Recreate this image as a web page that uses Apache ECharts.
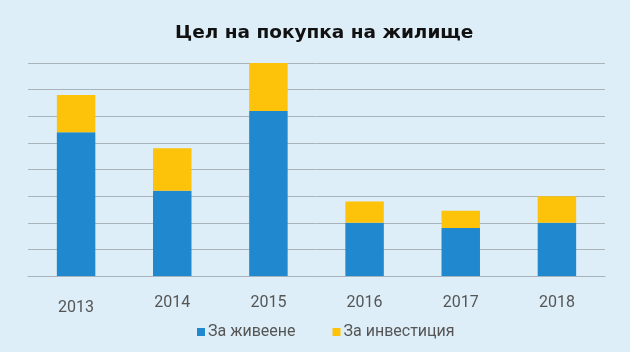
<!DOCTYPE html>
<html>
<head>
<meta charset="utf-8">
<script src="https://cdn.jsdelivr.net/npm/echarts@6/dist/echarts.min.js"></script>
<style>
  html, body { margin: 0; padding: 0; background: #ddeef8; }
  #chart { width: 630px; height: 352px; }
</style>
</head>
<body>
<div id="chart"></div>
<script>
// данни
var years = ['2013', '2014', '2015', '2016', '2017', '2018'];
var zaZhiveene = [5.4, 3.2, 6.2, 2.0, 1.8, 2.0];
var zaInvesticia = [1.4, 1.6, 1.8, 0.8, 0.65, 1.0];

(function () {
  var myChart = echarts.init(document.getElementById('chart'));

  var option = {
    backgroundColor: '#ddeef8',
    title: {
      text: 'Цел на покупка на жилище',
      left: 170,
      top: 19,
      textStyle: {
        color: '#111',
        fontFamily: 'DejaVu Sans',
        fontWeight: 'bold',
        fontSize: 18.5
      }
    },
    legend: {
      top: 319,
      left: 192,
      itemWidth: 8,
      itemHeight: 8,
      itemGap: 37,
      icon: 'rect',
      textStyle: { color: '#555', fontSize: 16, fontFamily: 'Roboto', padding: [0, 0, 0, -2] },
      data: ['За живеене', 'За инвестиция']
    },
    grid: { left: 28, right: 25, top: 63, bottom: 76 },
    xAxis: {
      type: 'category',
      data: years.map(function (y, i) {
        // 2013 е малко по-ниско в оригинала
        return i === 0 ? { value: y, textStyle: { padding: [5, 0, 0, 0] } } : y;
      }),
      axisLine: { lineStyle: { color: '#a9b3ba' } },
      axisTick: { show: false },
      axisLabel: { color: '#555', fontSize: 16, fontFamily: 'Roboto', margin: 19 }
    },
    yAxis: {
      type: 'value',
      min: 0,
      max: 8,
      interval: 1,
      axisLabel: { show: false },
      axisLine: { show: false },
      axisTick: { show: false },
      splitLine: { lineStyle: { color: '#a9b3ba', width: 1 } }
    },
    series: [
      {
        name: 'За живеене',
        type: 'bar',
        stack: 'total',
        barWidth: '40%',
        itemStyle: { color: '#1f88cf' },
        data: zaZhiveene
      },
      {
        name: 'За инвестиция',
        type: 'bar',
        stack: 'total',
        barWidth: '40%',
        itemStyle: { color: '#fdc20a' },
        data: zaInvesticia
      }
    ]
  };

  myChart.setOption(option);
})();
</script>
</body>
</html>
